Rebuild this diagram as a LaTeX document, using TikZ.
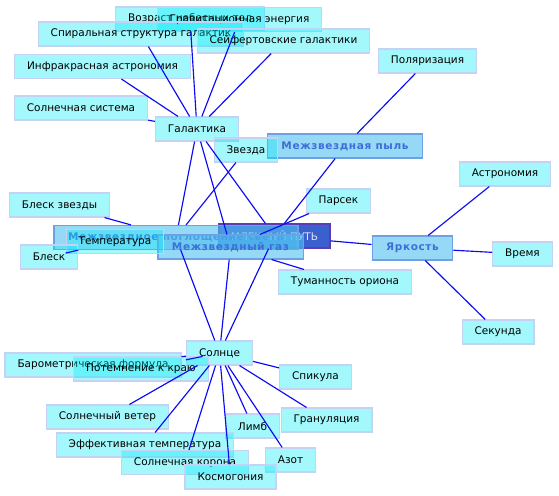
\documentclass[tikz,border=0pt]{standalone}
\usepackage{fontspec}
\setmainfont{DejaVu Sans}
\usepackage{tikz}
\usetikzlibrary{arrows.meta,positioning}

\definecolor{leaffill}{RGB}{0,235,247}
\definecolor{leafline}{RGB}{196,210,246}
\definecolor{hubfill}{RGB}{80,192,240}
\definecolor{hubline}{RGB}{110,160,228}
\definecolor{hubtext}{RGB}{62,110,216}
\definecolor{corefill}{RGB}{58,96,206}
\definecolor{coreline}{RGB}{92,60,180}
\definecolor{linkblue}{RGB}{10,10,245}

\begin{document}
\begin{tikzpicture}[x=1bp,y=-1bp,
font=\fontsize{10.5bp}{12bp}\selectfont,
leaf/.style={draw=leafline,line width=1.1bp,fill=leaffill,fill opacity=.36,text opacity=1,inner xsep=12.5bp,inner ysep=0pt,minimum height=24bp},
hub/.style={draw=hubline,line width=1.1bp,fill=hubfill,fill opacity=.6,text opacity=1,text=hubtext,font=\fontsize{10.5bp}{12bp}\selectfont\bfseries\addfontfeature{LetterSpace=6},inner xsep=14bp,inner ysep=0pt,minimum height=24bp},
core/.style={draw=coreline,line width=1.3bp,fill=corefill,text=white!88!blue,inner xsep=12bp,inner ysep=0pt,minimum height=24bp},
link/.style={draw=linkblue,line width=1.15bp}]
\useasboundingbox (0,0) rectangle (559,496);
% centre
\node[core] (milky) at (274.5,236) {МЛЕЧНЫЙ ПУТЬ};
\node[hub,minimum width=244bp] (absorb) at (176,237.5) {Межзвездное поглощение света};
\node[hub,minimum width=145bp] (gas) at (230.5,247) {Межзвездный газ};
\node[hub] (dust) at (345,146) {Межзвездная пыль};
\node[hub] (bright) at (412.5,248) {Яркость};
% galaxy group
\node[leaf] (vozrast) at (190,19) {Возраст небесных тел};
\node[leaf] (grav) at (239.5,19.5) {Гравитационная энергия};
\node[leaf] (spiral) at (141,34) {Спиральная структура галактик};
\node[leaf] (seyfert) at (283.5,41) {Сейфертовские галактики};
\node[leaf] (infra) at (102.5,66.5) {Инфракрасная астрономия};
\node[leaf] (solsys) at (81,108) {Солнечная система};
\node[leaf] (galaxy) at (197,129) {Галактика};
\node[leaf] (star) at (246,150) {Звезда};
\node[leaf] (polar) at (427.5,61) {Поляризация};
% left and right
\node[leaf] (bleskzv) at (59.5,205) {Блеск звезды};
\node[leaf] (temp) at (115,241.5) {Температура};
\node[leaf] (blesk) at (49,257) {Блеск};
\node[leaf] (parsec) at (338.5,201) {Парсек};
\node[leaf] (orion) at (345,282) {Туманность ориона};
\node[leaf] (astro) at (505,174) {Астрономия};
\node[leaf] (time) at (522.5,254) {Время};
\node[leaf] (second) at (498,332) {Секунда};
% sun group
\node[leaf] (sun) at (219.5,353) {Солнце};
\node[leaf] (barom) at (93,365) {Барометрическая формула};
\node[leaf] (limbdark) at (141,369) {Потемнение к краю};
\node[leaf] (spicule) at (315.5,377) {Спикула};
\node[leaf] (wind) at (107.5,417) {Солнечный ветер};
\node[leaf] (limb) at (252.5,426) {Лимб};
\node[leaf] (gran) at (326.5,420) {Грануляция};
\node[leaf] (efftemp) at (145,445) {Эффективная температура};
\node[leaf] (corona) at (185,462.5) {Солнечная корона};
\node[leaf] (nitrogen) at (290.5,460) {Азот};
\node[leaf] (cosmog) at (230.5,477) {Космогония};
% links
\draw[link] (galaxy)--(solsys);\draw[link] (galaxy)--(infra);\draw[link] (galaxy)--(spiral);
\draw[link] (galaxy)--(vozrast);\draw[link] (galaxy)--(grav);\draw[link] (galaxy)--(seyfert);
\draw[link] (galaxy)--(absorb);\draw[link] (galaxy)--(gas);\draw[link] (galaxy)--(milky);
\draw[link] (star)--(absorb);\draw[link] (polar)--(dust);\draw[link] (dust)--(milky);
\draw[link] (parsec)--(gas);\draw[link] (orion)--(gas);\draw[link] (milky)--(bright);
\draw[link] (bright)--(astro);\draw[link] (bright)--(time);\draw[link] (bright)--(second);
\draw[link] (bleskzv)--(absorb);\draw[link] (blesk)--(temp);
\draw[link] (sun)--(absorb);\draw[link] (sun)--(gas);\draw[link] (sun)--(milky);
\draw[link] (sun)--(barom);\draw[link] (sun)--(limbdark);\draw[link] (sun)--(wind);
\draw[link] (sun)--(efftemp);\draw[link] (sun)--(corona);\draw[link] (sun)--(cosmog);
\draw[link] (sun)--(limb);\draw[link] (sun)--(nitrogen);\draw[link] (sun)--(gran);
\draw[link] (sun)--(spicule);
\end{tikzpicture}
\end{document}
